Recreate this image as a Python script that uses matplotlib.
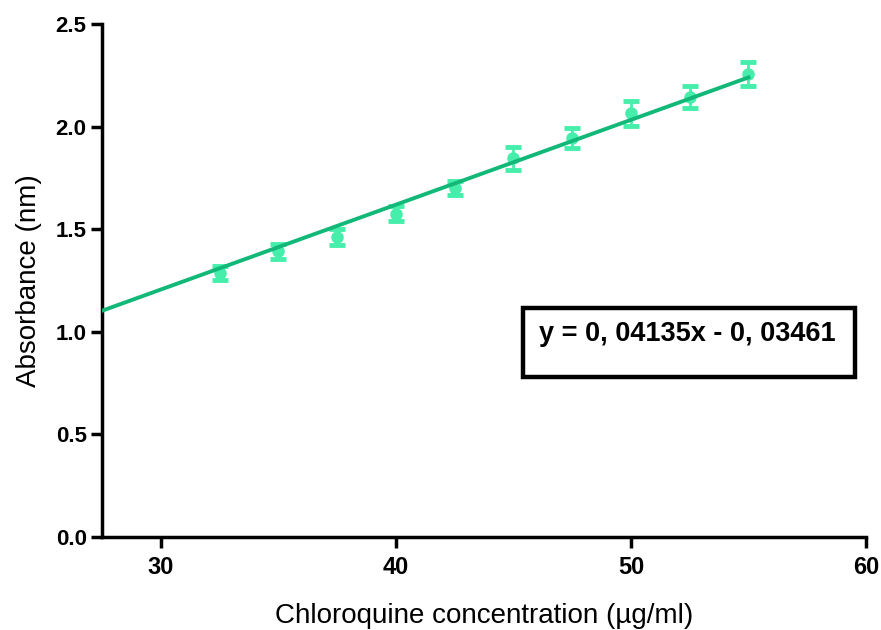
import matplotlib
matplotlib.use("Agg")
import matplotlib.pyplot as plt
from matplotlib.patches import Rectangle
import numpy as np

plt.rcParams['font.family'] = ['Liberation Sans', 'DejaVu Sans']

conc = [32.5, 35, 37.5, 40, 42.5, 45, 47.5, 50, 52.5, 55]
absorb = [1.287, 1.392, 1.462, 1.575, 1.700, 1.845, 1.945, 2.065, 2.145, 2.255]
err = [0.035, 0.035, 0.037, 0.037, 0.035, 0.058, 0.048, 0.060, 0.053, 0.058]
slope = 0.04135
intercept = -0.03461
fit_x = [27.5, 55]
xticks = [30, 40, 50, 60]
yticks = [0.0, 0.5, 1.0, 1.5, 2.0, 2.5]
eq_text = "y = 0, 04135x - 0, 03461"

fig = plt.figure(figsize=(8.81, 6.30), dpi=100)
ax = fig.add_axes([102/881, 1-537/630, (866-102)/881, (537-24)/630])

line_color = '#12b878'
pt_color = '#46eeab'

fx = np.array(fit_x)
ax.plot(fx, slope*fx + intercept, color=line_color, lw=2.8, zorder=3)
ax.errorbar(conc, absorb, yerr=err, fmt='o', color=pt_color, ms=8,
            ecolor=pt_color, elinewidth=2.0, capsize=6, capthick=3.5, zorder=2)

ax.set_xlim(27.5, 60)
ax.set_ylim(0, 2.5)
ax.set_xticks(xticks)
ax.set_yticks(yticks)
ax.set_yticklabels([f"{v:.1f}" for v in yticks])
for s in ['top', 'right']:
    ax.spines[s].set_visible(False)
for s in ['left', 'bottom']:
    ax.spines[s].set_linewidth(2.5)
ax.tick_params(axis='both', width=2.5, length=8, direction='out')
ax.tick_params(axis='x', labelsize=17, pad=6)
ax.tick_params(axis='y', labelsize=16, pad=3)
for lab in ax.get_xticklabels() + ax.get_yticklabels():
    lab.set_fontweight('bold')

ax.set_xlabel("Chloroquine concentration (µg/ml)", fontsize=20, labelpad=17)
ax.set_ylabel("Absorbance (nm)", fontsize=20, labelpad=10)

rect = Rectangle((45.43, 0.780), 59.54-45.43, 1.116-0.780, fill=False,
                 edgecolor='black', lw=3.2, zorder=5, clip_on=False)
ax.add_patch(rect)
ax.text(52.4, 0.99, eq_text, ha='center', va='center', fontsize=19.5,
        fontweight='bold', zorder=6)

fig.savefig("out.png", dpi=100)
